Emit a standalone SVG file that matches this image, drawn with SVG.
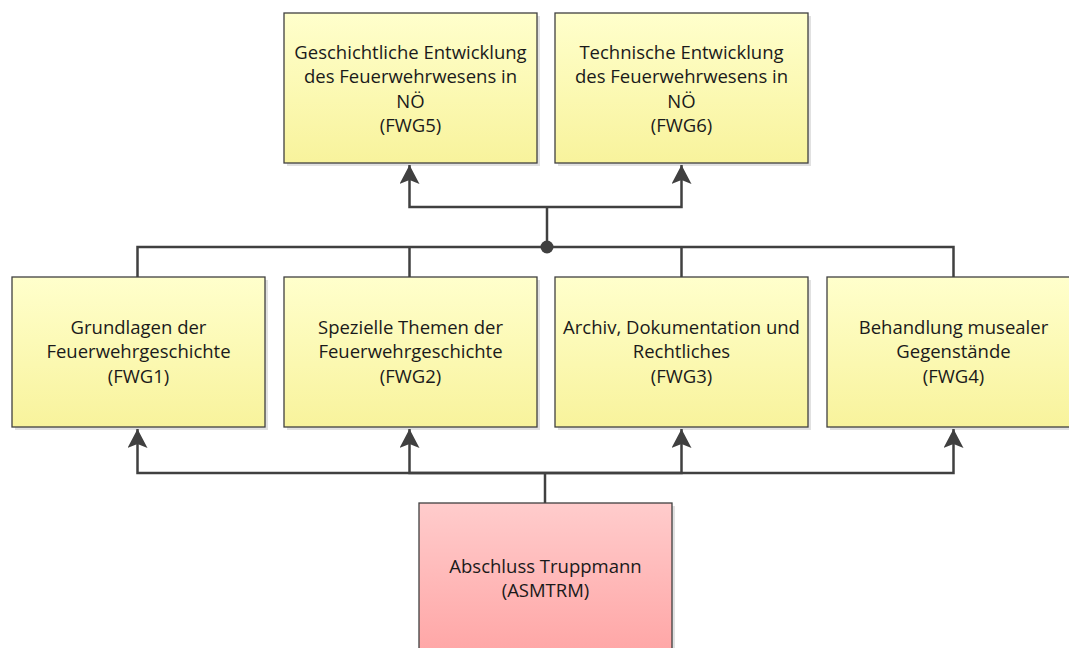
<svg xmlns="http://www.w3.org/2000/svg" width="1069" height="648" viewBox="0 0 1069 648">
<defs>
<linearGradient id="gy" x1="0" y1="0" x2="0" y2="1">
<stop offset="0" stop-color="#ffffcc"/>
<stop offset="1" stop-color="#f8f39c"/>
</linearGradient>
<linearGradient id="gr" x1="0" y1="0" x2="0" y2="1">
<stop offset="0" stop-color="#ffcccc"/>
<stop offset="1" stop-color="#ffa6a6"/>
</linearGradient>
<marker id="arr" markerUnits="userSpaceOnUse" markerWidth="20" markerHeight="20" viewBox="0 0 20 20" refX="19" refY="10" orient="auto">
<path d="M0,0 L19,10 L0,20 L4,10 Z" fill="#404040"/>
</marker>
</defs>
<style>
.sh{fill:#d4d4d4;opacity:0.7}
.y{fill:url(#gy);stroke:#404040;stroke-width:1.3}
.r{fill:url(#gr);stroke:#404040;stroke-width:1.3}
.t{font-family:"Open Sans","Liberation Sans",sans-serif;font-size:18.5px;fill:#1a1a1a;text-anchor:middle}
.c{fill:none;stroke:#404040;stroke-width:2.5}
</style>
<rect width="1069" height="648" fill="#ffffff"/>
<g id="FWG5">
<rect class="sh" x="287" y="16" width="253" height="150"/>
<rect class="y" x="284" y="13" width="253" height="150"/>
<text class="t"><tspan x="410.5" y="58.5">Geschichtliche Entwicklung</tspan><tspan x="410.5" y="83">des Feuerwehrwesens in</tspan><tspan x="410.5" y="107.5">NÖ</tspan><tspan x="410.5" y="132">(FWG5)</tspan></text>
</g>
<g id="FWG6">
<rect class="sh" x="558" y="16" width="253" height="150"/>
<rect class="y" x="555" y="13" width="253" height="150"/>
<text class="t"><tspan x="681.5" y="58.5">Technische Entwicklung</tspan><tspan x="681.5" y="83">des Feuerwehrwesens in</tspan><tspan x="681.5" y="107.5">NÖ</tspan><tspan x="681.5" y="132">(FWG6)</tspan></text>
</g>
<g id="FWG1">
<rect class="sh" x="15" y="280" width="253" height="150"/>
<rect class="y" x="12" y="277" width="253" height="150"/>
<text class="t"><tspan x="138.5" y="333.5">Grundlagen der</tspan><tspan x="138.5" y="358">Feuerwehrgeschichte</tspan><tspan x="138.5" y="382.5">(FWG1)</tspan></text>
</g>
<g id="FWG2">
<rect class="sh" x="287" y="280" width="253" height="150"/>
<rect class="y" x="284" y="277" width="253" height="150"/>
<text class="t"><tspan x="410.5" y="333.5">Spezielle Themen der</tspan><tspan x="410.5" y="358">Feuerwehrgeschichte</tspan><tspan x="410.5" y="382.5">(FWG2)</tspan></text>
</g>
<g id="FWG3">
<rect class="sh" x="558" y="280" width="253" height="150"/>
<rect class="y" x="555" y="277" width="253" height="150"/>
<text class="t"><tspan x="681.5" y="333.5">Archiv, Dokumentation und</tspan><tspan x="681.5" y="358">Rechtliches</tspan><tspan x="681.5" y="382.5">(FWG3)</tspan></text>
</g>
<g id="FWG4">
<rect class="sh" x="830" y="280" width="253" height="150"/>
<rect class="y" x="827" y="277" width="253" height="150"/>
<text class="t"><tspan x="953.5" y="333.5">Behandlung musealer</tspan><tspan x="953.5" y="358">Gegenstände</tspan><tspan x="953.5" y="382.5">(FWG4)</tspan></text>
</g>
<g id="ASMTRM">
<rect class="sh" x="422" y="506" width="253" height="150"/>
<rect class="r" x="419" y="503" width="253" height="150"/>
<text class="t"><tspan x="545.5" y="572.5">Abschluss Truppmann</tspan><tspan x="545.5" y="597">(ASMTRM)</tspan></text>
</g>
<g id="connectors">
<path class="c" d="M545,503 V473"/>
<path class="c" d="M545,473 H137.5 V429" marker-end="url(#arr)"/>
<path class="c" d="M545,473 H409.5 V429" marker-end="url(#arr)"/>
<path class="c" d="M545,473 H681.5 V429" marker-end="url(#arr)"/>
<path class="c" d="M545,473 H953.5 V429" marker-end="url(#arr)"/>
<path class="c" d="M137.5,277 V247 H953.5 V277"/>
<path class="c" d="M409.5,277 V247"/>
<path class="c" d="M681.5,277 V247"/>
<path class="c" d="M547,247 V207"/>
<path class="c" d="M547,207 H409.5 V165" marker-end="url(#arr)"/>
<path class="c" d="M547,207 H681.5 V165" marker-end="url(#arr)"/>
<circle cx="547" cy="247" r="6.5" fill="#404040"/>
</g>
</svg>
